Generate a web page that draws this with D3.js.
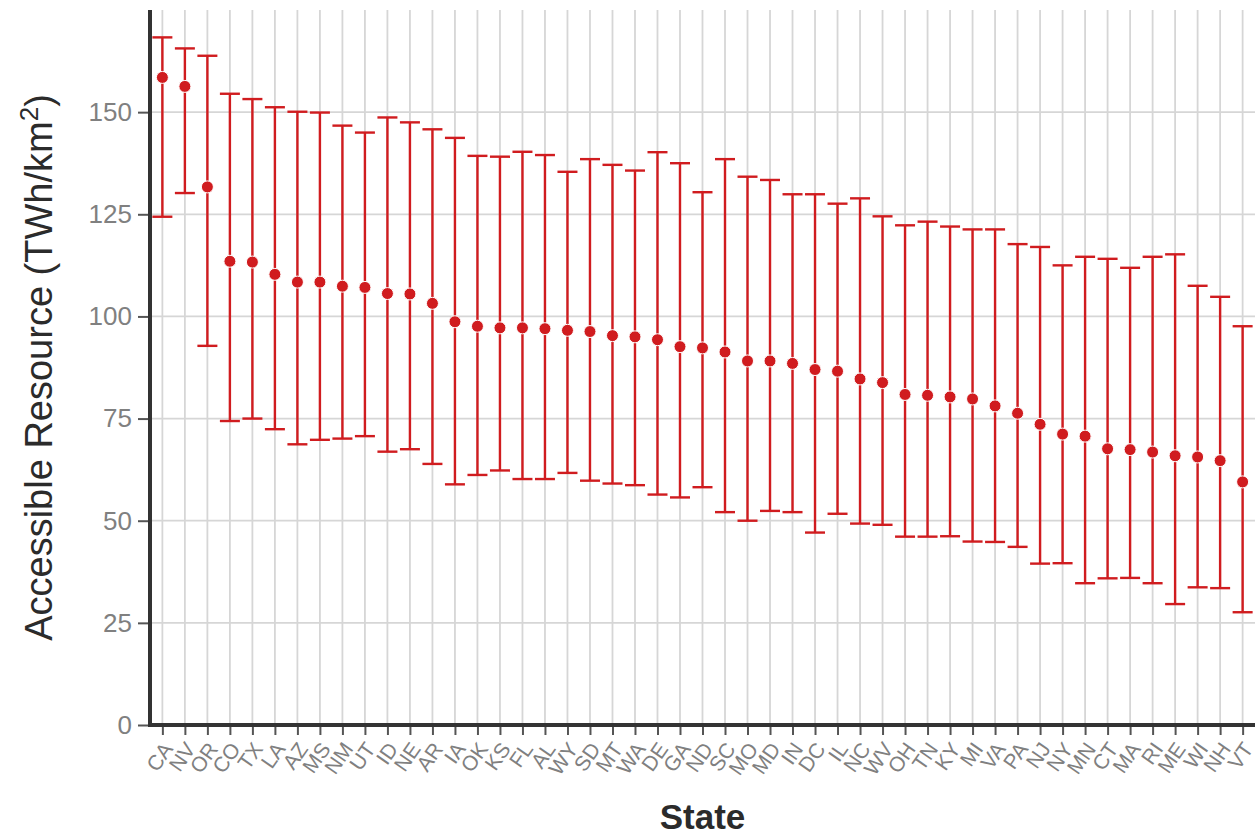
<!DOCTYPE html>
<html>
<head>
<meta charset="utf-8">
<script src="https://cdn.jsdelivr.net/npm/d3@7"></script>
<style>
  body { margin: 0; background: #fff; }
  svg { display: block; font-family: "Liberation Sans", Arial, sans-serif; }
</style>
</head>
<body>
<div id="chart"></div>
<script>
// states, ordered as in the figure
var states = ["CA","NV","OR","CO","TX","LA","AZ","MS","NM","UT","ID","NE","AR","IA","OK","KS","FL","AL","WY","SD",
  "MT","WA","DE","GA","ND","SC","MO","MD","IN","DC","IL","NC","WV","OH","TN","KY","MI","VA","PA","NJ",
  "NY","MN","CT","MA","RI","ME","WI","NH","VT"];

// mean accessible resource
var means = [158.5,156.3,131.7,113.5,113.3,110.3,108.4,108.4,107.4,107.1,105.6,105.5,103.2,98.7,97.6,97.2,97.2,97.0,96.6,96.3,
  95.3,95.0,94.3,92.6,92.3,91.3,89.1,89.1,88.5,87.0,86.6,84.7,83.8,80.9,80.7,80.3,79.8,78.1,76.3,73.6,
  71.2,70.7,67.6,67.4,66.8,65.9,65.6,64.7,59.5];

// upper end of the error bar
var uppers = [168.3,165.6,163.8,154.5,153.2,151.2,150.1,149.9,146.7,145.0,148.7,147.5,145.8,143.7,139.3,139.1,140.3,139.5,135.4,138.5,
  137.1,135.7,140.2,137.5,130.4,138.5,134.2,133.4,129.9,129.9,127.6,128.9,124.5,122.3,123.2,122.0,121.3,121.3,117.7,117.0,
  112.5,114.6,114.1,111.9,114.6,115.2,107.5,104.8,97.6];

// lower end of the error bar
var lowers = [124.4,130.2,92.8,74.4,75.0,72.4,68.7,69.8,70.1,70.7,66.9,67.5,63.9,58.9,61.2,62.3,60.2,60.2,61.7,59.8,
  59.1,58.7,56.4,55.7,58.2,52.1,50.0,52.4,52.1,47.1,51.7,49.3,49.0,46.1,46.1,46.2,44.9,44.8,43.6,39.5,
  39.6,34.7,35.9,36.0,34.7,29.6,33.7,33.5,27.6];

var yTicks = [0, 25, 50, 75, 100, 125, 150];

var rows = states.map(function (s, i) {
    return { state: s, mean: means[i], hi: uppers[i], lo: lowers[i] };
});

var W = 1257, H = 835;
var margin = { left: 150, right: 1255, top: 10, bottom: 725 };
var red = "#d01c1f";

var svg = d3.select("#chart").append("svg")
    .attr("width", W)
    .attr("height", H);

var x = d3.scalePoint()
    .domain(states)
    .range([margin.left, margin.right])
    .padding(0.55);

var y = d3.scaleLinear()
    .domain([0, 175])
    .range([margin.bottom, margin.top]);

// grid lines
svg.append("g").selectAll("line")
    .data(yTicks)
    .enter().append("line")
    .attr("x1", margin.left).attr("x2", margin.right)
    .attr("y1", function (d) { return y(d); })
    .attr("y2", function (d) { return y(d); })
    .attr("stroke", "#d6d6d6")
    .attr("stroke-width", 1.8);

svg.append("g").selectAll("line")
    .data(states)
    .enter().append("line")
    .attr("x1", function (d) { return x(d); })
    .attr("x2", function (d) { return x(d); })
    .attr("y1", margin.top).attr("y2", margin.bottom)
    .attr("stroke", "#d6d6d6")
    .attr("stroke-width", 1.8);

// error bars
var bars = svg.append("g").selectAll("g")
    .data(rows)
    .enter().append("g")
    .attr("stroke", red)
    .attr("stroke-width", 2.4);

bars.append("line")
    .attr("x1", function (d) { return x(d.state); })
    .attr("x2", function (d) { return x(d.state); })
    .attr("y1", function (d) { return y(d.hi); })
    .attr("y2", function (d) { return y(d.lo); });

bars.append("line")
    .attr("x1", function (d) { return x(d.state) - 10; })
    .attr("x2", function (d) { return x(d.state) + 10; })
    .attr("y1", function (d) { return y(d.hi); })
    .attr("y2", function (d) { return y(d.hi); });

bars.append("line")
    .attr("x1", function (d) { return x(d.state) - 10; })
    .attr("x2", function (d) { return x(d.state) + 10; })
    .attr("y1", function (d) { return y(d.lo); })
    .attr("y2", function (d) { return y(d.lo); });

// points
svg.append("g").selectAll("circle")
    .data(rows)
    .enter().append("circle")
    .attr("cx", function (d) { return x(d.state); })
    .attr("cy", function (d) { return y(d.mean); })
    .attr("r", 6)
    .attr("fill", red)
    .attr("stroke", "#fff")
    .attr("stroke-width", 1);

// y axis
var yAxis = svg.append("g")
    .attr("transform", "translate(" + margin.left + ",0)")
    .call(d3.axisLeft(y).tickValues(yTicks).tickSize(12).tickPadding(6));
yAxis.select(".domain").remove();
yAxis.selectAll(".tick line").attr("stroke", "#555").attr("stroke-width", 2);
yAxis.selectAll(".tick text")
    .attr("fill", "#808080")
    .style("font-size", "26px");

// x axis
var xAxis = svg.append("g")
    .attr("transform", "translate(0," + margin.bottom + ")")
    .call(d3.axisBottom(x).tickSize(10).tickPadding(4));
xAxis.select(".domain").remove();
xAxis.selectAll(".tick line").attr("stroke", "#555").attr("stroke-width", 2);
xAxis.selectAll(".tick text")
    .attr("fill", "#808080")
    .style("font-size", "21px")
    .attr("text-anchor", "end")
    .attr("dy", null)
    .attr("y", 0)
    .attr("transform", "translate(11,24) rotate(-55)");

// axis lines
svg.append("line")
    .attr("x1", margin.left).attr("x2", margin.left)
    .attr("y1", margin.top).attr("y2", margin.bottom + 2)
    .attr("stroke", "#333").attr("stroke-width", 4);
svg.append("line")
    .attr("x1", margin.left - 2).attr("x2", margin.right)
    .attr("y1", margin.bottom).attr("y2", margin.bottom)
    .attr("stroke", "#333").attr("stroke-width", 4);

// titles
var yTitle = svg.append("text")
    .attr("transform", "translate(52," + ((margin.top + margin.bottom) / 2) + ") rotate(-90)")
    .attr("text-anchor", "middle")
    .attr("fill", "#2b2b2b")
    .style("font-size", "38px");
yTitle.append("tspan").text("Accessible Resource (TWh/km");
yTitle.append("tspan").attr("dy", -14).style("font-size", "26px").text("2");
yTitle.append("tspan").attr("dy", 14).text(")");

svg.append("text")
    .attr("x", (margin.left + margin.right) / 2)
    .attr("y", 829)
    .attr("text-anchor", "middle")
    .attr("fill", "#2b2b2b")
    .style("font-size", "35px")
    .style("font-weight", "bold")
    .text("State");
</script>
</body>
</html>
